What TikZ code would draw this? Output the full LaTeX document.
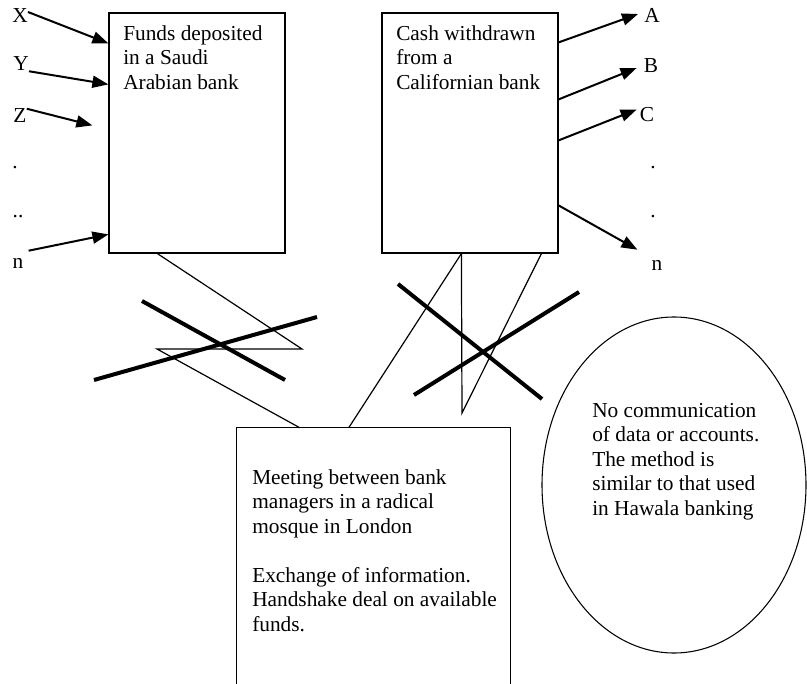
\documentclass[tikz,border=0pt]{standalone}
\usepackage{fontspec}
\setmainfont{Liberation Serif}
\usetikzlibrary{arrows.meta,calc,shapes.geometric}
\tikzset{
  bankbox/.style={draw,line width=0.9pt,minimum width=132pt,minimum height=180pt,inner sep=0pt},
  boxtext/.style={align=left,inner sep=0pt,anchor=north west,font=\fontsize{16}{18.4}\selectfont},
  tag/.style={inner sep=0pt,font=\fontsize{16}{18.4}\selectfont},
  flow/.style={-{Triangle[length=12pt,width=9pt]},line width=1.5pt},
  link/.style={line width=0.9pt},
  strike/.style={line width=3pt}
}

\begin{document}
\begin{tikzpicture}[x=0.75pt,y=-0.75pt]
  \path[use as bounding box] (0,0) rectangle (807,684);

  % the two banks
  \node[bankbox] (saudi) at (197,133) {};
  \node[bankbox] (calif) at (470,133) {};
  \node[boxtext] (saudiText) at (123,25) {Funds deposited\\in a Saudi\\Arabian bank};
  \node[boxtext] (califText) at (396,25) {Cash withdrawn\\from a\\Californian bank};

  % the meeting, its lower edge runs off the page
  \node[minimum width=204.75pt,minimum height=196.5pt,inner sep=0pt] (meet) at (373.5,559) {};
  \draw[line width=0.9pt] (meet.south west) -- (meet.north west) -- (meet.north east) -- (meet.south east);
  \node[boxtext] (meetText) at (252,469)
    {Meeting between bank\\managers in a radical\\mosque in London\\[18.4pt]Exchange of information.\\Handshake deal on available\\funds.};

  \node[ellipse,draw,line width=0.8pt,minimum width=198pt,minimum height=252pt,inner sep=0pt] (hawala) at (674,485) {};
  \node[boxtext] (hawalaText) at (592,403)
    {No communication\\of data or accounts.\\The method is\\similar to that used\\in Hawala banking};

  % senders
  \node[tag] (lX) at (20,16) {X};
  \node[tag] (lY) at (21,64) {Y};
  \node[tag] (lZ) at (20,116) {Z};
  \node[tag] (dotL1) at (15,168) {.};
  \node[tag] (dotL2) at (18,217) {..};
  \node[tag] (lnL) at (18,263) {n};
  \draw[flow] ($(lX.east)+(0,-4)$) -- ($(saudi.north west)+(0,31)$);
  \draw[flow] (lY.south east) -- ($(saudi.north west)+(0,72)$);
  \draw[flow] (lZ.north east) -- ($(saudi.north west)+(-16,113)$);
  \draw[flow] ($(lnL.north east)+(5,-7)$) -- ($(saudi.north west)+(0,222)$);

  % receivers
  \node[tag] (lA) at (652,15) {A};
  \node[tag] (lB) at (651,66) {B};
  \node[tag] (lC) at (647,115) {C};
  \node[tag] (dotR1) at (653,168) {.};
  \node[tag] (dotR2) at (653,217) {.};
  \node[tag] (lnR) at (657,265) {n};
  \draw[flow] ($(calif.north east)+(0,30)$) -- ($(lA.west)+(-6,-1)$);
  \draw[flow] ($(calif.north east)+(0,87)$) -- ($(lB.west)+(-7,2)$);
  \draw[flow] ($(calif.north east)+(0,128)$) -- ($(lC.north west)+(-3,2)$);
  \draw[flow] ($(calif.north east)+(0,193)$) -- ($(lnR.north west)+(-14,-10)$);

  % zig-zag links to the meeting
  \coordinate (kinkA) at (302,349);
  \coordinate (kinkB) at (157,349);
  \coordinate (kinkC) at (462,413);
  \draw[link] ($(saudi.south west)+(49,0)$) -- (kinkA) -- (kinkB) -- ($(meet.north west)+(63,0)$);
  \draw[link] ($(calif.south west)+(80,0)$) -- ($(meet.north west)+(112,0)$);
  \draw[link] ($(calif.south west)+(80,0)$) -- (kinkC) -- ($(calif.south west)+(160,0)$);

  % crossed out
  \draw[strike] (142,301) -- (285,380);
  \draw[strike] (94,380) -- (317,317);
  \draw[strike] (398,284) -- (542,399);
  \draw[strike] (414,395) -- (579,292);
\end{tikzpicture}
\end{document}
